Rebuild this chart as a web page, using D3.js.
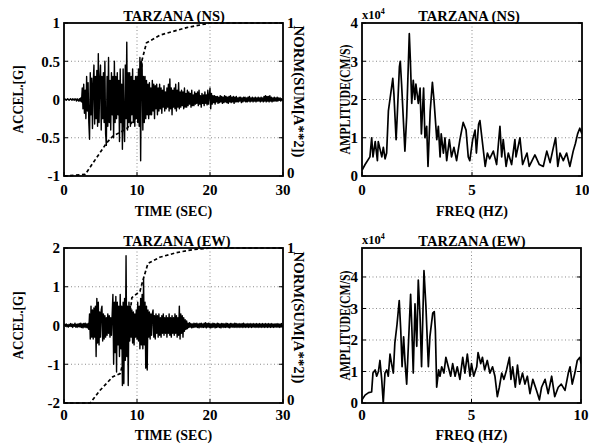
<!DOCTYPE html>
<html><head><meta charset="utf-8">
<script src="https://cdn.jsdelivr.net/npm/d3@7"></script>
<style>
body{margin:0;background:#fff}
text{font-family:"Liberation Serif","DejaVu Serif",serif;font-weight:bold;fill:#000}
</style>
</head><body><svg id="c" width="589" height="447"></svg>
<script>
// ---------------- DATA ----------------
const dt = 0.1; // sampling interval of the traces (s)
const accelNS = [
0,0.01,0,-0.01,0,0.01,0,-0.01,0,0.01,
0,-0.01,0.01,0,-0.01,0.01,0,-0.02,0.01,-0.01,
-0.02,0.01,-0.02,0.02,-0.03,0.15,-0.12,0.2,-0.18,0.12,
-0.25,0.3,-0.15,0.22,-0.3,-0.52,0.35,-0.2,0.28,-0.38,
0.2,0.45,-0.32,0.3,-0.25,0.38,-0.35,0.6,-0.3,0.25,
0.45,-0.4,0.3,-0.25,0.35,-0.3,0.5,-0.45,-0.6,0.3,
-0.35,0.55,-0.3,0.25,-0.4,0.35,-0.2,0.3,-0.5,0.5,
-0.3,0.3,-0.25,0.35,-0.2,0.25,-0.55,0.4,-0.3,0.2,
-0.65,0.4,-0.3,-0.55,0.45,-0.25,0.75,-0.4,0.35,-0.3,
0.35,-0.35,0.3,-0.2,0.4,-0.3,0.25,-0.35,0.3,-0.25,
0.3,-0.3,0.4,-0.35,0.55,-0.8,0.5,0.45,-0.4,0.3,
-0.3,0.3,-0.25,0.25,-0.2,0.2,-0.25,0.22,-0.2,0.15,
-0.2,0.25,-0.15,0.2,-0.25,0.18,-0.12,0.2,-0.2,0.15,
-0.15,0.2,-0.12,0.15,-0.18,0.12,-0.1,0.18,-0.15,0.1,
-0.12,0.15,-0.1,0.2,-0.15,0.27,-0.12,0.15,-0.2,0.12,
-0.1,0.15,-0.12,0.2,-0.15,0.12,-0.1,0.22,-0.12,0.1,
-0.1,0.12,-0.08,0.1,-0.12,0.15,-0.1,0.08,-0.1,0.12,
-0.08,0.1,-0.06,0.08,-0.1,0.12,-0.08,0.06,-0.08,0.1,
-0.06,0.08,-0.05,0.1,-0.08,0.12,-0.06,0.05,-0.1,0.08,
-0.05,0.06,-0.08,0.1,-0.05,0.06,-0.07,0.12,-0.06,0.05,
0.15,-0.12,0.08,-0.06,0.05,-0.04,0.05,-0.06,0.04,-0.03,
0.04,-0.05,0.03,-0.04,0.05,-0.03,0.04,-0.05,0.03,-0.04,
0.05,-0.03,0.04,-0.04,0.03,-0.05,0.04,-0.03,0.05,-0.04,
0.03,-0.03,0.04,-0.05,0.03,-0.03,0.04,-0.03,0.02,-0.03,
0.03,-0.02,0.03,-0.04,0.02,-0.03,0.03,-0.02,0.03,-0.03,
0.02,-0.03,0.03,-0.02,0.04,-0.03,0.02,-0.02,0.03,-0.03,
0.02,-0.02,0.03,-0.03,0.02,-0.02,0.03,-0.02,0.02,-0.03,
0.03,-0.02,0.02,-0.03,0.04,-0.02,0.05,-0.03,0.04,-0.02,
0.04,-0.03,0.05,-0.02,0.03,-0.03,0.02,-0.02,0.03,-0.02,
0.02,-0.02,0.03,-0.02,0.02,-0.01,0.02,-0.02,0.01,-0.01,
0];
const accelEW = [
0,0.03,-0.02,0.04,-0.03,0.02,-0.04,0.03,-0.02,0.05,
-0.03,0.04,-0.05,0.03,-0.02,0.06,-0.04,0.03,-0.05,0.04,
-0.03,0.05,-0.04,0.06,-0.05,0.04,-0.06,0.05,-0.04,0.06,
-0.05,0.04,-0.06,0.05,-0.1,0.3,-0.35,0.5,-0.3,0.4,
-0.35,0.45,-0.3,0.5,-0.8,0.7,-0.45,0.6,-0.5,0.35,
-0.3,0.4,0.5,-0.4,0.3,-0.35,0.25,-0.3,0.2,-0.25,
0.3,-0.2,0.25,-0.3,0.2,-0.25,0.3,0.8,-1.0,0.6,
-0.7,0.75,-1.2,0.6,-0.5,0.5,-0.8,0.8,-0.6,0.5,
-1.55,0.6,-1.5,0.7,-0.9,1.8,-0.8,0.5,-1.55,0.6,
-0.4,0.5,-0.3,0.4,-0.45,0.35,-0.5,0.3,-0.3,0.4,
-0.35,0.6,-0.4,0.5,-0.6,0.7,-0.5,0.8,-0.6,1.2,
-0.5,0.6,-1.1,0.5,-1.15,0.4,-0.3,0.35,-0.35,0.3,
-0.25,0.3,0.4,-0.3,0.25,-0.35,0.3,-0.2,0.25,-0.3,
0.3,-0.25,0.2,-0.3,0.25,-0.2,0.3,-0.25,0.2,-0.2,
0.25,-0.3,0.2,-0.2,0.3,-0.25,0.2,-0.3,0.25,-0.2,
0.2,-0.25,0.3,-0.2,0.25,-0.3,0.2,-0.25,0.5,-0.35,
0.3,-0.2,0.25,-0.3,0.2,-0.15,0.15,-0.1,0.12,-0.08,
0.06,-0.05,0.07,-0.04,0.05,-0.06,0.04,-0.05,0.06,-0.04,
0.05,-0.04,0.06,-0.05,0.04,-0.06,0.05,-0.04,0.06,-0.05,
0.04,-0.05,0.06,-0.04,0.07,-0.06,0.05,-0.04,0.06,-0.05,
0.05,-0.06,0.04,-0.05,0.06,-0.04,0.05,-0.06,0.04,-0.05,
0.06,-0.04,0.05,-0.05,0.04,-0.06,0.05,-0.04,0.05,-0.05,
0.04,-0.05,0.06,-0.04,0.05,-0.05,0.04,-0.06,0.05,-0.04,
0.05,-0.04,0.04,-0.05,0.06,-0.04,0.05,-0.05,0.04,-0.04,
0.05,-0.05,0.04,-0.04,0.05,-0.05,0.06,-0.04,0.04,-0.05,
0.04,-0.04,0.05,-0.05,0.04,-0.04,0.05,-0.05,0.04,-0.04,
0.05,-0.04,0.04,-0.05,0.05,-0.04,0.04,-0.05,0.05,-0.04,
0.04,-0.05,0.05,-0.04,0.04,-0.05,0.05,-0.04,0.04,-0.05,
0.05,-0.04,0.04,-0.05,0.05,-0.04,0.04,-0.05,0.04,-0.04,
0.04,-0.04,0.05,-0.04,0.04,-0.05,0.04,-0.04,0.05,-0.04,
0];
// normalised cumulative energy NORM(SUM[A**2])
const normNSTime = [0,2.9,4.9,5.9,6.7,8.6,10,10.4,10.7,11.3,13.1,16.8,20,30];
const normNS     = [0,0.01,0.15,0.22,0.26,0.31,0.39,0.55,0.76,0.87,0.92,0.97,1.0,1.0];
const normEWTime = [0,3.6,4.9,6.7,7.7,8.4,9.3,10.4,10.8,11.5,13.1,15.4,17.7,20,30];
const normEW     = [0,0,0.08,0.17,0.19,0.32,0.68,0.72,0.79,0.90,0.94,0.97,0.99,1.0,1.0];
// Fourier amplitude spectra (x10^4 cm/s)
const freqNS = [0,0.14,0.36,0.44,0.5,0.6,0.7,0.74,0.9,0.97,1.05,1.12,1.2,1.27,1.4,1.45,1.55,1.6,1.7,1.74,1.8,1.95,2.03,2.15,2.2,2.26,2.33,2.4,2.45,2.56,2.64,2.7,2.8,2.86,2.94,3.0,3.1,3.2,3.27,3.4,3.47,3.55,3.6,3.7,3.77,3.85,3.97,4.07,4.18,4.3,4.45,4.6,4.73,4.83,4.9,5.03,5.14,5.2,5.3,5.36,5.48,5.6,5.7,5.8,5.97,6.12,6.27,6.35,6.42,6.55,6.65,6.8,6.95,7.0,7.18,7.3,7.5,7.6,7.86,8.06,8.24,8.4,8.55,8.7,8.8,8.9,9.0,9.15,9.3,9.45,9.6,9.7,9.8,9.9,10];
const ampNS  = [0.15,0.3,0.5,1.0,0.5,0.9,0.4,0.9,0.5,0.75,0.45,0.6,1.7,2.0,2.55,2.15,0.95,1.55,2.85,3.0,2.4,0.65,1.55,3.72,3.0,1.9,2.5,2.0,2.4,1.9,2.3,1.1,2.3,1.0,1.3,0.25,1.7,2.45,2.0,0.95,1.3,0.5,1.1,0.6,1.0,0.4,0.95,0.5,0.75,0.4,0.95,1.4,1.2,0.5,0.4,0.95,1.2,0.6,1.35,1.45,0.85,0.25,0.6,0.45,0.65,0.3,1.3,0.5,0.95,0.25,0.6,0.3,0.95,0.5,1.0,0.3,0.6,0.25,0.55,0.3,0.25,0.65,0.35,0.75,1.0,0.25,0.6,0.4,0.6,0.25,0.65,0.85,1.1,1.25,1.1];
const freqEW = [0,0.14,0.3,0.44,0.5,0.6,0.67,0.75,0.82,0.9,0.97,1.05,1.13,1.2,1.28,1.35,1.43,1.5,1.6,1.7,1.77,1.83,1.9,1.96,2.04,2.1,2.22,2.28,2.34,2.42,2.5,2.57,2.65,2.72,2.83,2.92,3.03,3.1,3.23,3.3,3.35,3.41,3.5,3.56,3.64,3.74,3.83,3.94,4.05,4.14,4.25,4.35,4.47,4.6,4.7,4.81,4.93,5.0,5.1,5.24,5.3,5.42,5.5,5.6,5.72,5.84,5.96,6.07,6.18,6.27,6.38,6.48,6.6,6.73,6.8,6.88,7.0,7.1,7.2,7.33,7.44,7.55,7.67,7.8,7.97,8.1,8.2,8.36,8.5,8.66,8.8,8.96,9.1,9.27,9.42,9.5,9.6,9.72,9.83,9.95,10];
const ampEW  = [0.1,0.25,0.33,0.35,0.95,1.05,0.85,1.0,1.35,0.75,0,0.95,1.05,0.85,1.55,1.25,0.95,1.9,2.5,3.25,2.3,1.15,2.1,1.35,0.6,1.55,3.45,2.3,0.95,3.15,1.8,3.9,2.75,1.15,4.2,3.05,1.15,2.1,2.85,2.9,2.3,0.5,1.05,0.85,1.15,0.95,1.45,1.15,0.85,1.25,0.85,1.15,0.75,1.45,0.95,1.55,0.85,1.25,0.85,1.15,1.6,1.25,1.45,1.05,1.35,0.95,1.15,0.85,0.2,0.5,0.95,0.75,1.05,1.45,0.75,1.15,0.5,1.2,0.6,0.95,0.6,0.85,0.3,0.75,0.4,0.1,0.5,0.75,0.3,0.85,0.2,0.5,0.6,0.4,0.95,1.15,0.6,0.95,1.35,1.45,1.25];
// titles and ticks
const titleNS = "TARZANA (NS)", titleEW = "TARZANA (EW)";
const timeTicks = [0,10,20,30];
const freqTicks = [0,5,10];
const accelTicksNS = [-1,-0.5,0,0.5,1];
const accelTicksEW = [-2,-1,0,1,2];
const ampTicks = [0,1,2,3,4];
const normTicks = [0,1];

// ---------------- DRAW ----------------
const svg = d3.select("#c");
const FS = 15;

function panel(o){
  const g = svg.append("g");
  const x = d3.scaleLinear().domain(o.xd).range([o.x0,o.x1]);
  const y = d3.scaleLinear().domain(o.yd).range([o.y1,o.y0]);
  // grid
  const gridX = o.xt.filter(v=>v>o.xd[0] && v<o.xd[1]);
  const gridY = o.yt.filter(v=>v>o.yd[0] && v<o.yd[1]);
  g.selectAll(".gx").data(gridX).join("line")
    .attr("x1",d=>x(d)).attr("x2",d=>x(d)).attr("y1",o.y0).attr("y2",o.y1)
    .attr("stroke","#8a8a8a").attr("stroke-width",1).attr("stroke-dasharray","1,2.5");
  g.selectAll(".gy").data(gridY).join("line")
    .attr("x1",o.x0).attr("x2",o.x1).attr("y1",d=>y(d)).attr("y2",d=>y(d))
    .attr("stroke","#8a8a8a").attr("stroke-width",1).attr("stroke-dasharray","1,2.5");
  // data
  const clipId = "clip"+Math.round(o.x0)+"_"+Math.round(o.y0);
  svg.append("clipPath").attr("id",clipId).append("rect")
    .attr("x",o.x0).attr("y",o.y0-1).attr("width",o.x1-o.x0).attr("height",o.y1-o.y0+2);
  const dg = g.append("g").attr("clip-path",`url(#${clipId})`);
  if(o.norm){
    const yn = d3.scaleLinear().domain([0,1]).range([o.y1,o.y0]);
    dg.append("path").datum(d3.zip(o.norm.t,o.norm.v))
      .attr("d",d3.line().x(d=>x(d[0])).y(d=>yn(d[1])))
      .attr("fill","none").attr("stroke","#000").attr("stroke-width",1.7)
      .attr("stroke-dasharray","3.5,2.5");
  }
  dg.append("path").datum(o.data)
    .attr("d",d3.line().x(d=>x(d[0])).y(d=>y(d[1])))
    .attr("fill","none").attr("stroke","#000").attr("stroke-width",o.lw)
    .attr("stroke-linejoin","round");
  // ticks (inward)
  const tl = 4;
  g.selectAll(".tx").data(o.xt).join("line")
    .attr("x1",d=>x(d)).attr("x2",d=>x(d)).attr("y1",o.y1).attr("y2",o.y1-tl)
    .attr("stroke","#000").attr("stroke-width",1);
  g.selectAll(".ty").data(o.yt).join("line")
    .attr("x1",o.x0).attr("x2",o.x0+tl).attr("y1",d=>y(d)).attr("y2",d=>y(d))
    .attr("stroke","#000").attr("stroke-width",1);
  g.selectAll(".ty2").data(o.yt).join("line")
    .attr("x1",o.x1).attr("x2",o.x1-tl).attr("y1",d=>y(d)).attr("y2",d=>y(d))
    .attr("stroke","#000").attr("stroke-width",1);
  // box
  g.append("rect").attr("x",o.x0).attr("y",o.y0).attr("width",o.x1-o.x0).attr("height",o.y1-o.y0)
    .attr("fill","none").attr("stroke","#000").attr("stroke-width",1.8);
  // tick labels
  g.selectAll(".lx").data(o.xt).join("text")
    .attr("x",d=>x(d)).attr("y",o.y1+o.xlOff).attr("text-anchor","middle")
    .attr("font-size",FS).text(d=>String(d));
  g.selectAll(".ly").data(o.yt).join("text")
    .attr("x",o.x0-4).attr("y",d=>y(d)).attr("dy","0.35em").attr("text-anchor","end")
    .attr("font-size",FS).text(d=>String(d));
  // axis labels
  g.append("text").attr("x",(o.x0+o.x1)/2).attr("y",o.y1+o.xLabOff).attr("text-anchor","middle")
    .attr("font-size",14).text(o.xlab);
  g.append("text").attr("transform",`translate(${o.ylx},${(o.y0+o.y1)/2}) rotate(-90)`)
    .attr("text-anchor","middle").attr("dy","0.35em").attr("font-size",14)
    .attr("textLength",o.ylLen).attr("lengthAdjust","spacingAndGlyphs").text(o.ylab);
  // title
  g.append("text").attr("x",o.tx).attr("y",o.y0-2).attr("text-anchor","middle")
    .attr("font-size",14.5).text(o.title);
  if(o.norm){
    const yn = d3.scaleLinear().domain([0,1]).range([o.y1,o.y0]);
    g.selectAll(".ln").data(normTicks).join("text")
      .attr("x",o.x1+4).attr("y",d=>yn(d)).attr("dy",d=>d===0?"0.1em":"0.35em")
      .attr("font-size",FS).text(d=>String(d));
    g.append("text").attr("transform",`translate(${o.x1+16},${(o.y0+o.y1)/2-8}) rotate(90)`)
      .attr("text-anchor","middle").attr("dy","0.35em").attr("font-size",14)
      .attr("textLength",132).attr("lengthAdjust","spacingAndGlyphs").text("NORM(SUM[A**2])");
  }
  if(o.exp){
    const t = g.append("text").attr("x",o.x0).attr("y",o.y0-4).attr("font-size",12.5);
    t.append("tspan").text("x10");
    t.append("tspan").attr("dy",-5).attr("font-size",8).text("4");
  }
}

const tsNS = accelNS.map((v,i)=>[i*dt,v]);
const tsEW = accelEW.map((v,i)=>[i*dt,v]);

panel({x0:64,x1:283,y0:23,y1:176,xd:[0,30],yd:[-1,1],xt:timeTicks,yt:accelTicksNS,lw:1.4,
  data:tsNS,norm:{t:normNSTime,v:normNS},xlab:"TIME (SEC)",ylab:"ACCEL.[G]",ylx:18,ylLen:68,
  title:titleNS,tx:174,xlOff:19,xLabOff:40});
panel({x0:362,x1:582,y0:23,y1:176,xd:[0,10],yd:[0,4],xt:freqTicks,yt:ampTicks,lw:1.7,
  data:d3.zip(freqNS,ampNS),xlab:"FREQ (HZ)",ylab:"AMPLITUDE(CM/S)",ylx:345,ylLen:110,
  title:titleNS,tx:469,xlOff:19,xLabOff:40,exp:true});
panel({x0:64,x1:283,y0:248,y1:403,xd:[0,30],yd:[-2,2],xt:timeTicks,yt:accelTicksEW,lw:1.4,
  data:tsEW,norm:{t:normEWTime,v:normEW},xlab:"TIME (SEC)",ylab:"ACCEL.[G]",ylx:18,ylLen:68,
  title:titleEW,tx:177,xlOff:17,xLabOff:37});
panel({x0:362,x1:581,y0:248,y1:403,xd:[0,10],yd:[0,4.92],xt:freqTicks,yt:ampTicks,lw:1.7,
  data:d3.zip(freqEW,ampEW),xlab:"FREQ (HZ)",ylab:"AMPLITUDE(CM/S)",ylx:345,ylLen:110,
  title:titleEW,tx:472,xlOff:17,xLabOff:37,exp:true});
</script>
</body></html>
